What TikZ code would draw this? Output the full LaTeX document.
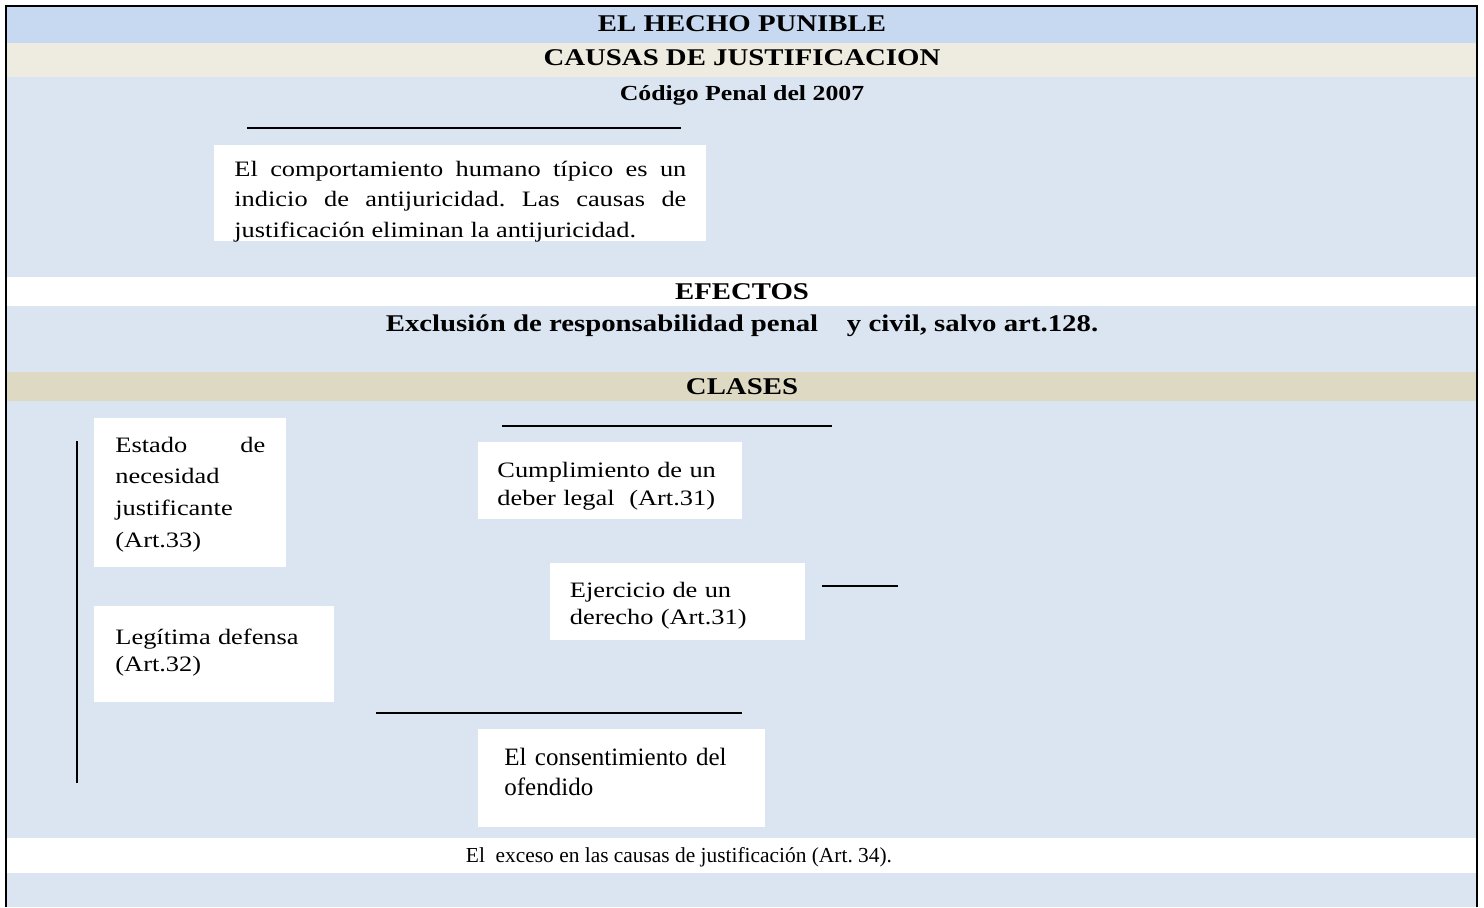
\documentclass[tikz,border=0pt]{standalone}
\usepackage{fontspec}
\setmainfont{Liberation Serif}[FakeStretch=1.2]
\newfontfamily\plainserif{Liberation Serif}
\usetikzlibrary{positioning}

\definecolor{titleblue}{HTML}{C6D9F1}
\definecolor{paleblue}{HTML}{DBE5F1}
\definecolor{cream}{HTML}{EEECE1}
\definecolor{khaki}{HTML}{DDD9C3}

\begin{document}
\frenchspacing
\begin{tikzpicture}[x=0.5pt,y=-0.5pt,
	titulo/.style={anchor=base,inner sep=0pt,font=\bfseries\fontsize{12}{14}\selectfont},
	caja/.style={anchor=north west,fill=white,inner ysep=0pt,align=left},
	raya/.style={line width=1.1pt},
	marco/.style={line width=1.15pt}]
	\useasboundingbox (0,0) rectangle (1484,907);

	\fill[titleblue] (7,7) rectangle (1476,43);
	\fill[cream] (7,43) rectangle (1476,77);
	\fill[paleblue] (7,77) rectangle (1476,277);
	\fill[paleblue] (7,306) rectangle (1476,372);
	\fill[khaki] (7,372) rectangle (1476,401);
	\fill[paleblue] (7,401) rectangle (1476,838);
	\fill[paleblue] (7,873) rectangle (1476,907);
	\draw[marco] (6,907) -- (6,6) -- (1477,6) -- (1477,907);

	\node[titulo] (hecho) at (742,31.7) {EL HECHO PUNIBLE};
	\node[titulo] (causas) at (742,65) {CAUSAS DE JUSTIFICACION};
	\node[titulo,font=\bfseries\fontsize{10.75}{13}\selectfont] (codigo) at (742,100) {Código Penal del 2007};
	\node[titulo] (efectos) at (742,299) {EFECTOS};
	\node[titulo] (exclusion) at (742,331) {Exclusión de responsabilidad penal\ \ \ \ y civil, salvo art.128.};
	\node[titulo] (clases) at (742,394) {CLASES};
	\node[anchor=base,inner sep=0pt,font=\plainserif\fontsize{10.7}{13}\selectfont] (exceso) at (679,862) {El\ \ exceso en las causas de justificación (Art. 34).};

	\node[caja,text width=226pt,inner xsep=10pt,text height=15.5pt,text depth=32.5pt,align=justify,font=\fontsize{11}{15.25}\selectfont] (indicio) at (214,145) {El comportamiento humano típico es un\linebreak indicio de antijuricidad. Las causas de\linebreak justificación eliminan la antijuricidad.};

	\node[caja,text width=75pt,inner xsep=10.5pt,text height=16.85pt,text depth=57.65pt,font=\fontsize{11}{15.85}\selectfont] (estado) at (94,418) {Estado\hfill de\\necesidad\\justificante\\(Art.33)};
	\node[caja,text width=99pt,inner xsep=10.5pt,text height=19pt,text depth=29pt,font=\fontsize{11}{13.5}\selectfont] (legitima) at (94,606) {Legítima defensa\\(Art.32)};
	\node[caja,text width=113pt,inner xsep=9.5pt,text height=17.5pt,text depth=21pt,font=\fontsize{11}{14}\selectfont] (deber) at (478,442) {Cumplimiento de un\\deber legal\ \ (Art.31)};
	\node[caja,text width=108pt,inner xsep=9.75pt,text height=17pt,text depth=21.5pt,font=\fontsize{11}{13.75}\selectfont] (derecho) at (550,563) {Ejercicio de un\\derecho (Art.31)};
	\node[caja,text width=117.5pt,inner xsep=13pt,text height=18pt,text depth=31pt,font=\plainserif\fontsize{12.5}{15}\selectfont] (consentimiento) at (478,729) {El consentimiento del\\ofendido};

	\draw[raya] (247,128) -- (681,128);
	\draw[raya] (502,426) -- (832,426);
	\draw[raya] (822,586) -- (898,586);
	\draw[raya] (376,713) -- (742,713);
	\draw[raya] (77,441) -- (77,783);
\end{tikzpicture}
\end{document}
